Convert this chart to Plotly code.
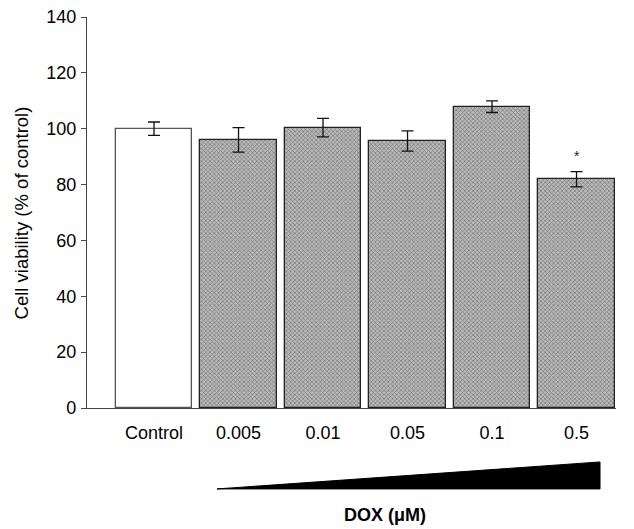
import plotly.graph_objects as go

categories = ["Control", "0.005", "0.01", "0.05", "0.1", "0.5"]
viability = [100.0, 96.0, 100.4, 95.6, 107.9, 81.9]
sem = [2.4, 4.4, 3.3, 3.6, 2.1, 2.7]
significant = [False, False, False, False, False, True]

FONT = "Liberation Sans, Arial, sans-serif"
x_pos = list(range(len(categories)))

fig = go.Figure()

# Control bar (white)
fig.add_trace(go.Bar(
    x=[x_pos[0]], y=[viability[0]],
    error_y=dict(type="data", array=[sem[0]], color="#111", thickness=1.3, width=6),
    marker=dict(color="white", line=dict(color="#555", width=1.3)),
    width=0.91, showlegend=False,
))

# DOX bars (hatched gray)
fig.add_trace(go.Bar(
    x=x_pos[1:], y=viability[1:],
    error_y=dict(type="data", array=sem[1:], color="#111", thickness=1.3, width=6),
    marker=dict(color="#b4b4b4", line=dict(color="#222", width=1.3),
                pattern=dict(shape="x", size=3, solidity=0.35, fgcolor="#1a1a1a", bgcolor="#bababa")),
    width=0.91, showlegend=False,
))

# significance marks
for i, (v, s, sig) in enumerate(zip(viability, sem, significant)):
    if sig:
        fig.add_annotation(x=x_pos[i], y=v + s + 5.5, text="*", showarrow=False,
                           font=dict(size=14, color="#222", family=FONT), yanchor="middle")

# concentration wedge
fig.add_shape(type="path", xref="x", yref="paper",
              path="M 0.745,-0.207 L 5.278,-0.207 L 5.278,-0.138 Z",
              fillcolor="black", line=dict(color="black", width=1))

fig.add_annotation(x=2.734, y=-0.274, xref="x", yref="paper", text="<b>DOX (μM)</b>",
                   showarrow=False, font=dict(size=18, color="black", family=FONT),
                   yanchor="middle")

fig.add_annotation(x=-0.123, y=0.5, xref="paper", yref="paper",
                   text="Cell viability (% of control)", textangle=-90,
                   showarrow=False, font=dict(size=18.5, color="black", family=FONT),
                   xanchor="center", yanchor="middle")

fig.update_layout(
    width=634, height=529,
    margin=dict(l=87, r=18, t=17, b=121),
    plot_bgcolor="white", paper_bgcolor="white",
    font=dict(family=FONT, size=18, color="black"),
    bargap=0,
)
fig.update_xaxes(
    range=[-0.793, 5.467], tickmode="array", tickvals=x_pos, ticktext=categories,
    showline=True, linecolor="#444", linewidth=1.3, showgrid=False, zeroline=False,
    ticks="", ticklabelstandoff=8, tickfont=dict(size=18), automargin=False,
)
fig.update_yaxes(
    range=[0, 140], tickmode="array", tickvals=[0, 20, 40, 60, 80, 100, 120, 140],
    showline=True, linecolor="#444", linewidth=1.3, showgrid=False, zeroline=False,
    ticks="outside", ticklen=5, tickwidth=1.3, tickcolor="#444",
    ticklabelstandoff=1, tickfont=dict(size=18), automargin=False,
)

fig.write_html("out.html", config={"displayModeBar": False},
               post_script="document.body.style.margin='0';")
